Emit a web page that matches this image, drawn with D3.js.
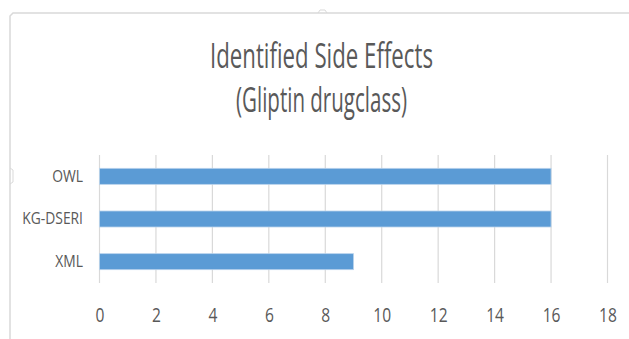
<!DOCTYPE html>
<html>
<head>
<meta charset="utf-8">
<script src="https://cdn.jsdelivr.net/npm/d3@7"></script>
<style>
  html, body { margin: 0; padding: 0; background: #fff; }
  svg { display: block; }
  text { font-family: "Open Sans", "Noto Sans", sans-serif; fill: #595959; }
</style>
</head>
<body>
<svg id="chart" width="629" height="339"></svg>
<script>
// Chart data
const categories = ["OWL", "KG-DSERI", "XML"];
const values = [16, 16, 9];
const xTicks = [0, 2, 4, 6, 8, 10, 12, 14, 16, 18];
const titleLines = ["Identified Side Effects", "(Gliptin drugclass)"];

const svg = d3.select("#chart");
const W = 629, H = 339;
const plot = { left: 99.5, right: 607.5, top: 155, bottom: 283 };

// Chart-area frame with its resize handles
const frame = svg.append("g").attr("fill", "none").attr("stroke", "#d9d9d9").attr("stroke-width", 1.5);
frame.append("path").attr("d", `M10,${H + 2} L10,16 L13,13 L${W + 2},13`);
frame.append("path").attr("d", "M318,13 L320,10 L325,10 L327,13").attr("stroke-width", 1);
frame.append("path").attr("d", "M10,168 L13,170 L13,182 L10,184").attr("stroke-width", 1);

// Scales
const x = d3.scaleLinear().domain([0, 18]).range([plot.left, plot.right]);
const y = d3.scaleBand().domain(categories).range([plot.top, plot.bottom])
  .paddingInner(0.625).paddingOuter(0.3125);

// Vertical gridlines
svg.append("g").selectAll("line").data(xTicks).join("line")
  .attr("x1", d => x(d)).attr("x2", d => x(d))
  .attr("y1", plot.top).attr("y2", plot.bottom)
  .attr("stroke", "#d9d9d9").attr("stroke-width", 1.2);

// Bars
svg.append("g").selectAll("rect").data(categories).join("rect")
  .attr("x", x(0))
  .attr("y", d => y(d))
  .attr("width", (d, i) => x(values[i]) - x(0))
  .attr("height", y.bandwidth())
  .attr("fill", "#5b9bd5")
  .attr("stroke", "#b8d3ec").attr("stroke-width", 0.8);

// X axis tick labels (narrowed horizontally, centred on each tick)
const xAxis = d3.axisBottom(x).tickValues(xTicks).tickSize(0).tickPadding(0);
const gx = svg.append("g").attr("transform", `translate(0,${plot.bottom})`).call(xAxis);
gx.select(".domain").remove();
gx.selectAll(".tick text")
  .attr("y", 39).attr("dy", null)
  .attr("font-size", 20).attr("fill", "#595959")
  .attr("font-family", "Open Sans, sans-serif")
  .attr("transform", "scale(0.78,1)");

// Y axis category labels
const yAxis = d3.axisLeft(y).tickSize(0).tickPadding(0);
const gy = svg.append("g").attr("transform", "translate(83,0)").call(yAxis);
gy.select(".domain").remove();
gy.selectAll(".tick text")
  .attr("x", 0).attr("dy", "0.32em")
  .attr("font-size", 16.5).attr("fill", "#595959")
  .attr("font-family", "Open Sans, sans-serif")
  .attr("transform", "scale(0.84,1)");

// Two-line title
const title = svg.append("g");
title.append("text").attr("x", 321.5).attr("y", 68)
  .attr("text-anchor", "middle").attr("font-size", 34)
  .attr("textLength", 223).attr("lengthAdjust", "spacingAndGlyphs")
  .text(titleLines[0]);
title.append("text").attr("x", 321.5).attr("y", 112)
  .attr("text-anchor", "middle").attr("font-size", 34)
  .attr("textLength", 171).attr("lengthAdjust", "spacingAndGlyphs")
  .text(titleLines[1]);
</script>
</body>
</html>
